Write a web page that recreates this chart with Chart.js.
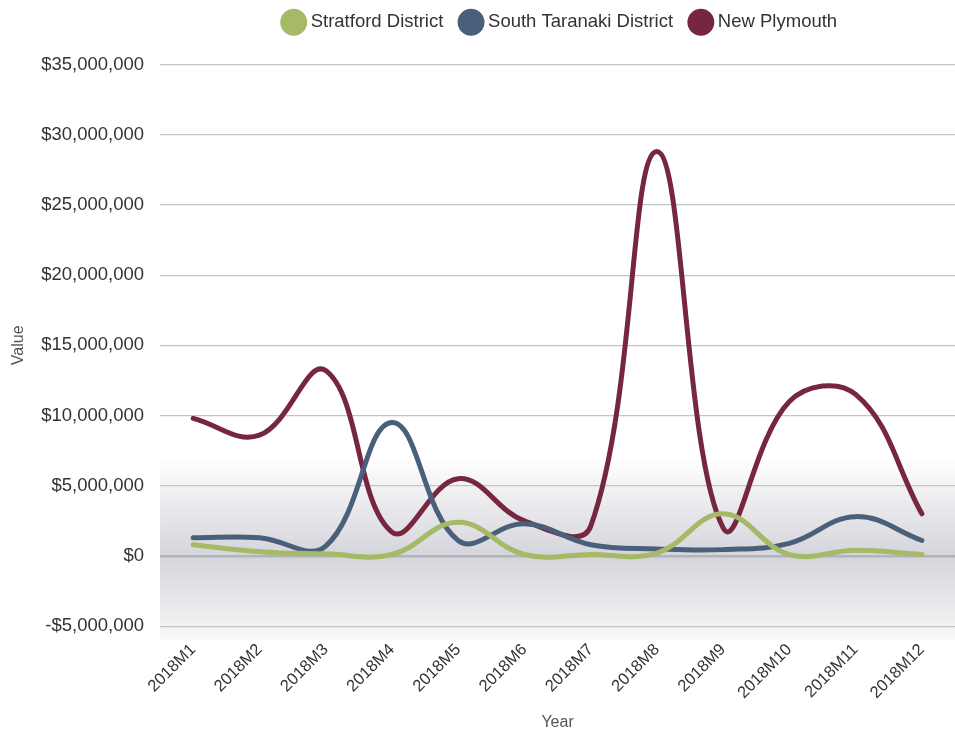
<!DOCTYPE html>
<html>
<head>
<meta charset="utf-8">
<script src="https://cdn.jsdelivr.net/npm/chart.js@4"></script>
<style>
  html, body { margin: 0; padding: 0; background: #fff; }
  #wrap { width: 955px; height: 736px; }
</style>
</head>
<body>
<div id="wrap"><canvas id="valueChart" width="955" height="736"></canvas></div>
<script>
// monthly values per district
const months = ['2018M1', '2018M2', '2018M3', '2018M4', '2018M5', '2018M6',
                '2018M7', '2018M8', '2018M9', '2018M10', '2018M11', '2018M12'];
const stratford = [800000, 300000, 150000, 100000, 2400000, 100000,
                   100000, 200000, 3000000, 100000, 400000, 100000];
const southTaranaki = [1300000, 1300000, 700000, 9500000, 1100000, 2300000,
                       800000, 500000, 450000, 900000, 2800000, 1100000];
const newPlymouth = [9800000, 8600000, 13200000, 1700000, 5500000, 2500000,
                     2100000, 28800000, 2000000, 11000000, 11500000, 3000000];

const fontFamily = '"Liberation Sans", Arial, sans-serif';

function money(v) {
    const s = '$' + Math.abs(v).toLocaleString('en-US');
    return v < 0 ? '-' + s : s;
}

// grey band around the zero line
const plotBackground = {
    id: 'plotBackground',
    beforeDraw(chart) {
        const { ctx, chartArea: a, scales } = chart;
        const y = scales.y;
        const top = y.getPixelForValue(7000000);
        const zero = y.getPixelForValue(0);
        const bottom = a.bottom + 14;
        const g = ctx.createLinearGradient(0, top, 0, bottom);
        const span = bottom - top;
        g.addColorStop(0, '#ffffff');
        g.addColorStop((zero - top) / span, '#d4d4db');
        g.addColorStop(1, '#f8f8f8');
        ctx.save();
        ctx.fillStyle = g;
        ctx.fillRect(a.left, top, a.right - a.left, bottom - top);
        ctx.restore();
    }
};

// extra room under the legend, and centre it over the plot area
const legendSpacing = {
    id: 'legendSpacing',
    beforeInit(chart) {
        const fit = chart.legend.fit;
        chart.legend.fit = function () {
            fit.bind(chart.legend)();
            this.height += 23;
        };
    },
    afterLayout(chart) {
        chart.legend.left = chart.chartArea.left + 8;
    }
};

function series(label, data, color) {
    return {
        label: label,
        data: data,
        borderColor: color,
        backgroundColor: color,
        borderWidth: 5,
        pointRadius: 0,
        pointHoverRadius: 0,
        pointStyle: 'circle',
        tension: 0.4,
        borderCapStyle: 'round',
        fill: false
    };
}

new Chart(document.getElementById('valueChart'), {
    type: 'line',
    data: {
        labels: months,
        datasets: [
            series('Stratford District', stratford, '#a5b966'),
            series('South Taranaki District', southTaranaki, '#4a5f7a'),
            series('New Plymouth', newPlymouth, '#76263f')
        ]
    },
    options: {
        responsive: false,
        animation: false,
        layout: { padding: { top: -7, right: 0, left: 0, bottom: 0 } },
        plugins: {
            legend: {
                display: true,
                position: 'top',
                labels: {
                    usePointStyle: true,
                    boxWidth: 15.5,
                    boxHeight: 15.5,
                    color: '#333',
                    padding: 20,
                    font: { family: fontFamily, size: 18.5 }
                }
            },
            tooltip: { enabled: false }
        },
        scales: {
            x: {
                offset: true,
                grid: { display: false },
                border: { display: false },
                ticks: {
                    color: '#333',
                    maxRotation: 45,
                    minRotation: 45,
                    padding: 6,
                    font: { family: fontFamily, size: 16.5 }
                },
                title: {
                    display: true,
                    text: 'Year',
                    color: '#555',
                    font: { family: fontFamily, size: 16 }
                }
            },
            y: {
                min: -5000000,
                max: 35000000,
                border: { display: false },
                grid: {
                    drawTicks: false,
                    color: (c) => c.tick.value === 0 ? '#b3b3be' : '#c4c4cf',
                    lineWidth: (c) => c.tick.value === 0 ? 2.5 : 1.2
                },
                ticks: {
                    stepSize: 5000000,
                    padding: 16,
                    color: '#333',
                    font: { family: fontFamily, size: 18.5 },
                    callback: (v) => money(v)
                },
                title: {
                    display: true,
                    text: 'Value',
                    color: '#555',
                    padding: { top: 9, bottom: -3 },
                    font: { family: fontFamily, size: 16 }
                }
            }
        }
    },
    plugins: [plotBackground, legendSpacing]
});
</script>
</body>
</html>
